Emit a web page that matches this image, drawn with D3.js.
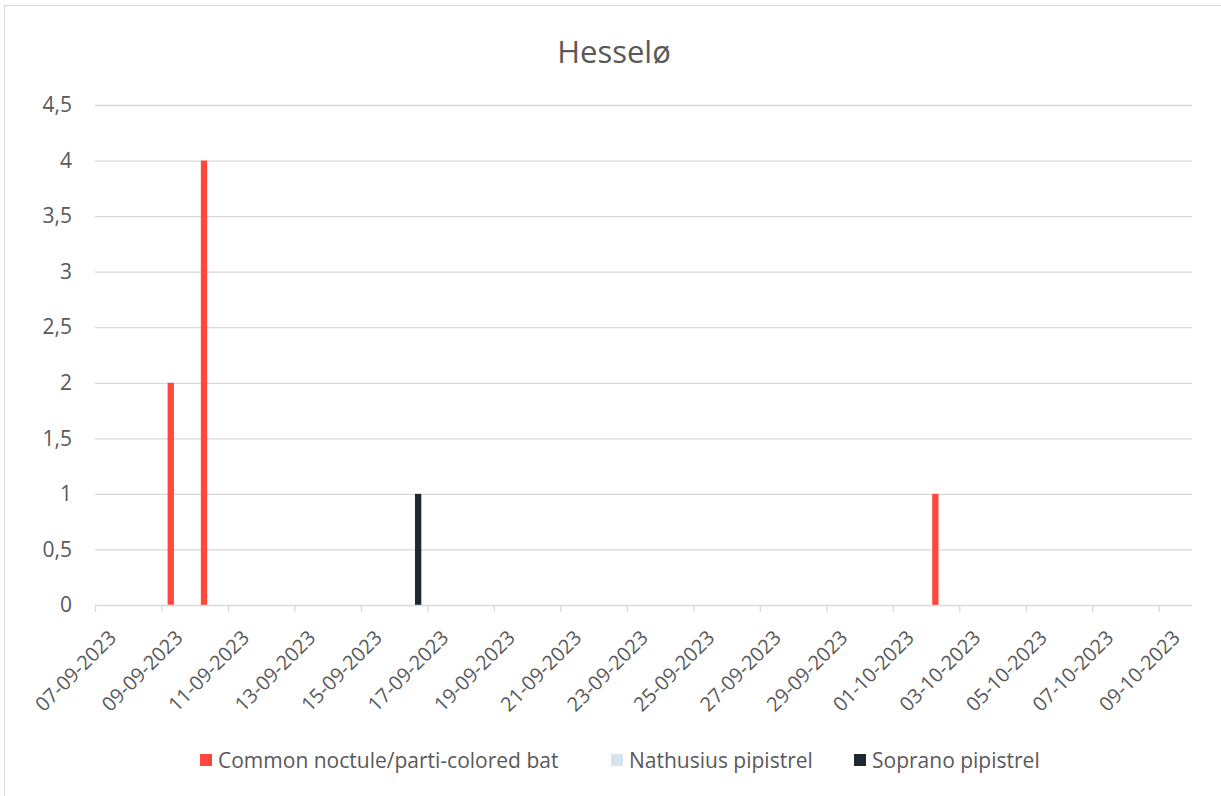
<!DOCTYPE html>
<html><head><meta charset="utf-8">
<script src="https://cdn.jsdelivr.net/npm/d3@7"></script>
<style>body{margin:0;background:#fff;} text{font-family:"Open Sans","Noto Sans",sans-serif;fill:#595959;}</style>
</head><body>
<svg id="c" width="1221" height="796"></svg>
<script>
const title = "Hesselø";
const seriesNames = ["Common noctule/parti-colored bat", "Nathusius pipistrel", "Soprano pipistrel"];
const seriesColors = ["#FF473D", "#D5E3EF", "#1F2731"];
const dates = ["09-09-2023", "10-09-2023", "16-09-2023", "02-10-2023"];
const commonNoctule = [2, 4, 0, 1];
const nathusius = [0, 0, 0, 0];
const soprano = [0, 0, 1, 0];
const yTicks = [0, 0.5, 1, 1.5, 2, 2.5, 3, 3.5, 4, 4.5];
const xStart = "07-09-2023", xEnd = "10-10-2023";

const parse = d3.timeParse("%d-%m-%Y");
const fmt = d3.timeFormat("%d-%m-%Y");
const svg = d3.select("#c");

// chart border
svg.append("rect").attr("x",4.5).attr("y",5.5).attr("width",1230).attr("height",800)
  .attr("fill","none").attr("stroke","#D9D9D9").attr("stroke-width",1);

const L=95, R=1192, T=105, B=605;
const x = d3.scaleTime().domain([parse(xStart), parse(xEnd)]).range([L, R]);
const y = d3.scaleLinear().domain([0, 4.5]).range([B, T]);
const dayW = x(d3.timeDay.offset(parse(xStart),1)) - x(parse(xStart));
const x1 = d3.scaleBand().domain(seriesNames).range([-10.5, 10.5]).paddingInner(0.14);

svg.append("text").attr("x",614).attr("y",63).attr("text-anchor","middle")
  .attr("font-size",31).text(title);

// gridlines
svg.append("g").selectAll("line").data(yTicks.slice(1)).join("line")
  .attr("x1",L).attr("x2",R).attr("y1",d=>y(d)+0.5).attr("y2",d=>y(d)+0.5)
  .attr("stroke","#D9D9D9").attr("stroke-width",1.3);

// y axis labels
const yAxis = d3.axisLeft(y).tickValues(yTicks).tickSize(0).tickPadding(23)
  .tickFormat(d=>String(d).replace(".",","));
const gy = svg.append("g").attr("transform",`translate(${L},0)`).call(yAxis);
gy.select(".domain").remove();
gy.selectAll("text").attr("font-size",21).style("fill","#595959").style("font-family","'Open Sans'");

// bars
const data = [commonNoctule, nathusius, soprano];
data.forEach((vals, si) => {
  svg.append("g").selectAll("rect").data(dates.map((d,i)=>({d:parse(d), v:vals[i]})).filter(o=>o.v>0))
    .join("rect")
    .attr("x", o => x(o.d) + dayW/2 + x1(seriesNames[si]))
    .attr("width", x1.bandwidth())
    .attr("y", o => y(o.v))
    .attr("height", o => y(0) - y(o.v))
    .attr("fill", seriesColors[si]);
});

// x axis
const xTicks = d3.timeDay.range(parse(xStart), d3.timeDay.offset(parse(xEnd),1), 2).filter(d=>d<=parse("09-10-2023"));
const xAxis = d3.axisBottom(x).tickValues(xTicks).tickSize(7).tickFormat(fmt);
const gx = svg.append("g").attr("transform",`translate(0,${B})`).call(xAxis);
gx.select(".domain").attr("stroke","#D9D9D9").attr("stroke-width",1.3).attr("d",`M${L},0.5H${R}`);
gx.selectAll(".tick line").attr("stroke","#D9D9D9").attr("stroke-width",1.3);
gx.selectAll("text").attr("font-size",20).style("fill","#595959").style("font-family","'Open Sans'")
  .attr("text-anchor","end").attr("dy",null).attr("y",0)
  .attr("transform","translate(22,34) rotate(-45)");

// legend
const legX = [200, 611, 854];
const lg = svg.append("g");
seriesNames.forEach((n,i)=>{
  lg.append("rect").attr("x",legX[i]).attr("y",754).attr("width",12).attr("height",12).attr("fill",seriesColors[i]);
  lg.append("text").attr("x",legX[i]+18).attr("y",768).attr("font-size",21).text(n);
});
</script>
</body></html>
